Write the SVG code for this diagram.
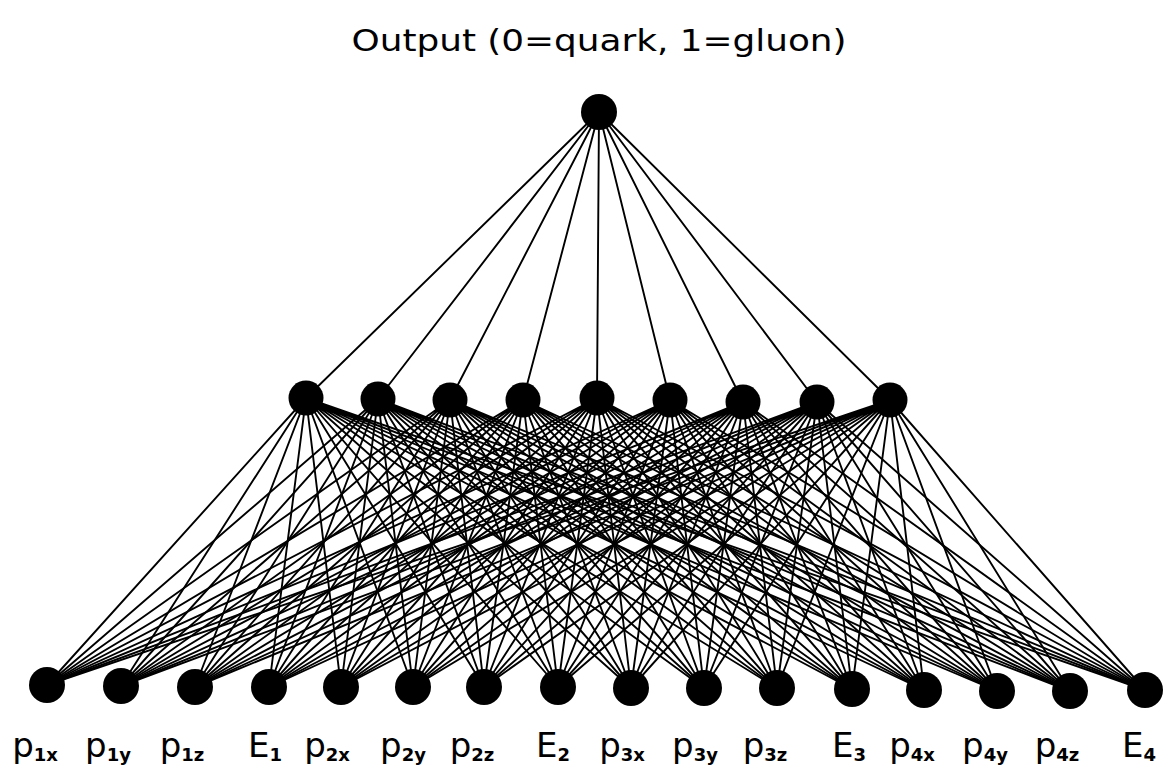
<svg xmlns="http://www.w3.org/2000/svg" width="1163" height="777" viewBox="0 0 1163 777">
<style>
.bg{fill:#fff}
.node{fill:#000}
.conn{stroke:#000;stroke-width:1.9;fill:none;stroke-linecap:round}
.title{font-family:"DejaVu Sans","Liberation Sans",sans-serif;font-size:30px;fill:#000}
.lbl{font-family:"DejaVu Sans","Liberation Sans",sans-serif;font-size:34px;fill:#000;text-anchor:middle}
.sub{font-size:18px;font-weight:bold}
</style>
<rect class="bg" x="0" y="0" width="1163" height="777"/>
<text class="title" x="599" y="51" text-anchor="middle" textLength="495" lengthAdjust="spacingAndGlyphs">Output (0=quark, 1=gluon)</text>
<g id="connectors">
<path class="conn" d="M599 112L306 398M599 112L378 399M599 112L450 400M599 112L523 400M599 112L597 398M599 112L670 400M599 112L743 402M599 112L817 402M599 112L890 400"/>
<path class="conn" d="M306 398L47 685M306 398L121 686M306 398L195 687M306 398L269 687M306 398L341 687M306 398L413 687M306 398L484 687M306 398L558 687M306 398L631 688M306 398L704 688M306 398L777 688M306 398L852 689M306 398L924 690M306 398L997 691M306 398L1070 691M306 398L1145 690"/>
<path class="conn" d="M378 399L47 685M378 399L121 686M378 399L195 687M378 399L269 687M378 399L341 687M378 399L413 687M378 399L484 687M378 399L558 687M378 399L631 688M378 399L704 688M378 399L777 688M378 399L852 689M378 399L924 690M378 399L997 691M378 399L1070 691M378 399L1145 690"/>
<path class="conn" d="M450 400L47 685M450 400L121 686M450 400L195 687M450 400L269 687M450 400L341 687M450 400L413 687M450 400L484 687M450 400L558 687M450 400L631 688M450 400L704 688M450 400L777 688M450 400L852 689M450 400L924 690M450 400L997 691M450 400L1070 691M450 400L1145 690"/>
<path class="conn" d="M523 400L47 685M523 400L121 686M523 400L195 687M523 400L269 687M523 400L341 687M523 400L413 687M523 400L484 687M523 400L558 687M523 400L631 688M523 400L704 688M523 400L777 688M523 400L852 689M523 400L924 690M523 400L997 691M523 400L1070 691M523 400L1145 690"/>
<path class="conn" d="M597 398L47 685M597 398L121 686M597 398L195 687M597 398L269 687M597 398L341 687M597 398L413 687M597 398L484 687M597 398L558 687M597 398L631 688M597 398L704 688M597 398L777 688M597 398L852 689M597 398L924 690M597 398L997 691M597 398L1070 691M597 398L1145 690"/>
<path class="conn" d="M670 400L47 685M670 400L121 686M670 400L195 687M670 400L269 687M670 400L341 687M670 400L413 687M670 400L484 687M670 400L558 687M670 400L631 688M670 400L704 688M670 400L777 688M670 400L852 689M670 400L924 690M670 400L997 691M670 400L1070 691M670 400L1145 690"/>
<path class="conn" d="M743 402L47 685M743 402L121 686M743 402L195 687M743 402L269 687M743 402L341 687M743 402L413 687M743 402L484 687M743 402L558 687M743 402L631 688M743 402L704 688M743 402L777 688M743 402L852 689M743 402L924 690M743 402L997 691M743 402L1070 691M743 402L1145 690"/>
<path class="conn" d="M817 402L47 685M817 402L121 686M817 402L195 687M817 402L269 687M817 402L341 687M817 402L413 687M817 402L484 687M817 402L558 687M817 402L631 688M817 402L704 688M817 402L777 688M817 402L852 689M817 402L924 690M817 402L997 691M817 402L1070 691M817 402L1145 690"/>
<path class="conn" d="M890 400L47 685M890 400L121 686M890 400L195 687M890 400L269 687M890 400L341 687M890 400L413 687M890 400L484 687M890 400L558 687M890 400L631 688M890 400L704 688M890 400L777 688M890 400L852 689M890 400L924 690M890 400L997 691M890 400L1070 691M890 400L1145 690"/>
</g>
<g id="output"><circle class="node" cx="599" cy="112" r="18"/></g>
<g id="h1"><circle class="node" cx="306" cy="398" r="17.5"/></g>
<g id="h2"><circle class="node" cx="378" cy="399" r="17.5"/></g>
<g id="h3"><circle class="node" cx="450" cy="400" r="17.5"/></g>
<g id="h4"><circle class="node" cx="523" cy="400" r="17.5"/></g>
<g id="h5"><circle class="node" cx="597" cy="398" r="17.5"/></g>
<g id="h6"><circle class="node" cx="670" cy="400" r="17.5"/></g>
<g id="h7"><circle class="node" cx="743" cy="402" r="17.5"/></g>
<g id="h8"><circle class="node" cx="817" cy="402" r="17.5"/></g>
<g id="h9"><circle class="node" cx="890" cy="400" r="17.5"/></g>
<g id="in-p1x"><circle class="node" cx="47" cy="685" r="18"/><text class="lbl" x="35" y="757">p<tspan class="sub" dy="4">1x</tspan></text></g>
<g id="in-p1y"><circle class="node" cx="121" cy="686" r="18"/><text class="lbl" x="108" y="757">p<tspan class="sub" dy="4">1y</tspan></text></g>
<g id="in-p1z"><circle class="node" cx="195" cy="687" r="18"/><text class="lbl" x="182" y="757">p<tspan class="sub" dy="4">1z</tspan></text></g>
<g id="in-E1"><circle class="node" cx="269" cy="687" r="18"/><text class="lbl" x="265" y="757">E<tspan class="sub" dy="4">1</tspan></text></g>
<g id="in-p2x"><circle class="node" cx="341" cy="687" r="18"/><text class="lbl" x="327" y="757">p<tspan class="sub" dy="4">2x</tspan></text></g>
<g id="in-p2y"><circle class="node" cx="413" cy="687" r="18"/><text class="lbl" x="403" y="757">p<tspan class="sub" dy="4">2y</tspan></text></g>
<g id="in-p2z"><circle class="node" cx="484" cy="687" r="18"/><text class="lbl" x="472" y="757">p<tspan class="sub" dy="4">2z</tspan></text></g>
<g id="in-E2"><circle class="node" cx="558" cy="687" r="18"/><text class="lbl" x="553" y="757">E<tspan class="sub" dy="4">2</tspan></text></g>
<g id="in-p3x"><circle class="node" cx="631" cy="688" r="18"/><text class="lbl" x="622" y="757">p<tspan class="sub" dy="4">3x</tspan></text></g>
<g id="in-p3y"><circle class="node" cx="704" cy="688" r="18"/><text class="lbl" x="695" y="757">p<tspan class="sub" dy="4">3y</tspan></text></g>
<g id="in-p3z"><circle class="node" cx="777" cy="688" r="18"/><text class="lbl" x="765" y="757">p<tspan class="sub" dy="4">3z</tspan></text></g>
<g id="in-E3"><circle class="node" cx="852" cy="689" r="18"/><text class="lbl" x="849" y="757">E<tspan class="sub" dy="4">3</tspan></text></g>
<g id="in-p4x"><circle class="node" cx="924" cy="690" r="18"/><text class="lbl" x="912" y="757">p<tspan class="sub" dy="4">4x</tspan></text></g>
<g id="in-p4y"><circle class="node" cx="997" cy="691" r="18"/><text class="lbl" x="985" y="757">p<tspan class="sub" dy="4">4y</tspan></text></g>
<g id="in-p4z"><circle class="node" cx="1070" cy="691" r="18"/><text class="lbl" x="1057" y="757">p<tspan class="sub" dy="4">4z</tspan></text></g>
<g id="in-E4"><circle class="node" cx="1145" cy="690" r="18"/><text class="lbl" x="1139" y="757">E<tspan class="sub" dy="4">4</tspan></text></g>
</svg>
